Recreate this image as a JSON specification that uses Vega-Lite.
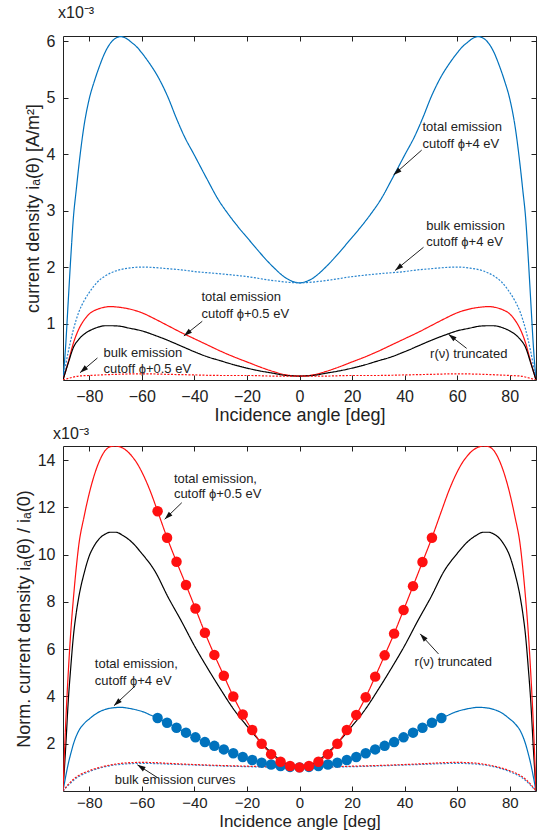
{
  "$schema": "https://vega.github.io/schema/vega-lite/v6.json",
  "background": "white",
  "padding": {"left": 14, "top": 4, "right": 8, "bottom": 0},
  "spacing": 0,
  "config": {
    "font": "Liberation Sans",
    "view": {"stroke": "#222", "strokeWidth": 1},
    "axis": {"domain": false, "grid": false, "tickColor": "#222", "tickSize": -5, "tickWidth": 1,
      "labelFont": "Liberation Sans", "labelFontSize": 16, "labelColor": "#222",
      "titleFont": "Liberation Sans", "titleFontSize": 18, "titleFontWeight": "normal", "titleColor": "#222"},
    "title": {"font": "Liberation Sans", "fontSize": 16, "fontWeight": "normal", "color": "#222", "anchor": "start", "frame": "group"}
  },
  "datasets": {
    "top": [
      {"s":"t4","a":-90,"v":0},{"s":"t4","a":-89,"v":0.6},{"s":"t4","a":-88,"v":1.4},{"s":"t4","a":-87,"v":2.2},{"s":"t4","a":-86,"v":2.9},{"s":"t4","a":-85,"v":3.35},{"s":"t4","a":-84,"v":3.78},{"s":"t4","a":-82,"v":4.5},{"s":"t4","a":-80,"v":4.98},{"s":"t4","a":-78,"v":5.3},{"s":"t4","a":-76,"v":5.57},{"s":"t4","a":-74,"v":5.8},{"s":"t4","a":-72,"v":5.96},{"s":"t4","a":-70,"v":6.05},{"s":"t4","a":-68,"v":6.08},{"s":"t4","a":-66,"v":6.05},{"s":"t4","a":-64,"v":5.98},{"s":"t4","a":-62,"v":5.9},{"s":"t4","a":-60,"v":5.79},{"s":"t4","a":-57,"v":5.6},{"s":"t4","a":-54,"v":5.38},{"s":"t4","a":-50,"v":5.0},{"s":"t4","a":-47,"v":4.65},{"s":"t4","a":-44,"v":4.33},{"s":"t4","a":-40,"v":3.98},{"s":"t4","a":-35,"v":3.54},{"s":"t4","a":-31,"v":3.2},{"s":"t4","a":-27,"v":2.93},{"s":"t4","a":-23,"v":2.69},{"s":"t4","a":-19,"v":2.47},{"s":"t4","a":-15,"v":2.25},{"s":"t4","a":-10,"v":2.0},{"s":"t4","a":-5,"v":1.8},{"s":"t4","a":0,"v":1.72},
      {"s":"t4","a":5,"v":1.8},{"s":"t4","a":10,"v":2.0},{"s":"t4","a":15,"v":2.25},{"s":"t4","a":19,"v":2.47},{"s":"t4","a":23,"v":2.69},{"s":"t4","a":27,"v":2.93},{"s":"t4","a":31,"v":3.2},{"s":"t4","a":35,"v":3.54},{"s":"t4","a":40,"v":3.98},{"s":"t4","a":44,"v":4.33},{"s":"t4","a":47,"v":4.65},{"s":"t4","a":50,"v":5.0},{"s":"t4","a":54,"v":5.38},{"s":"t4","a":57,"v":5.6},{"s":"t4","a":60,"v":5.79},{"s":"t4","a":62,"v":5.9},{"s":"t4","a":64,"v":5.98},{"s":"t4","a":66,"v":6.05},{"s":"t4","a":68,"v":6.08},{"s":"t4","a":70,"v":6.05},{"s":"t4","a":72,"v":5.96},{"s":"t4","a":74,"v":5.8},{"s":"t4","a":76,"v":5.57},{"s":"t4","a":78,"v":5.3},{"s":"t4","a":80,"v":4.98},{"s":"t4","a":82,"v":4.5},{"s":"t4","a":84,"v":3.78},{"s":"t4","a":85,"v":3.35},{"s":"t4","a":86,"v":2.9},{"s":"t4","a":87,"v":2.2},{"s":"t4","a":88,"v":1.4},{"s":"t4","a":89,"v":0.6},{"s":"t4","a":90,"v":0},
      {"s":"b4","a":-90,"v":0},{"s":"b4","a":-88,"v":0.5},{"s":"b4","a":-86,"v":0.9},{"s":"b4","a":-84,"v":1.2},{"s":"b4","a":-82,"v":1.4},{"s":"b4","a":-80,"v":1.55},{"s":"b4","a":-77,"v":1.73},{"s":"b4","a":-74,"v":1.84},{"s":"b4","a":-70,"v":1.93},{"s":"b4","a":-65,"v":1.98},{"s":"b4","a":-60,"v":2.0},{"s":"b4","a":-55,"v":1.99},{"s":"b4","a":-50,"v":1.97},{"s":"b4","a":-45,"v":1.95},{"s":"b4","a":-40,"v":1.92},{"s":"b4","a":-30,"v":1.88},{"s":"b4","a":-20,"v":1.83},{"s":"b4","a":-10,"v":1.76},{"s":"b4","a":0,"v":1.72},{"s":"b4","a":10,"v":1.76},{"s":"b4","a":20,"v":1.83},{"s":"b4","a":30,"v":1.88},{"s":"b4","a":40,"v":1.92},{"s":"b4","a":45,"v":1.95},{"s":"b4","a":50,"v":1.97},{"s":"b4","a":55,"v":1.99},{"s":"b4","a":60,"v":2.0},{"s":"b4","a":65,"v":1.98},{"s":"b4","a":70,"v":1.93},{"s":"b4","a":74,"v":1.84},{"s":"b4","a":77,"v":1.73},{"s":"b4","a":80,"v":1.55},{"s":"b4","a":82,"v":1.4},{"s":"b4","a":84,"v":1.2},{"s":"b4","a":86,"v":0.9},{"s":"b4","a":88,"v":0.5},{"s":"b4","a":90,"v":0},
      {"s":"t05","a":-90,"v":0},{"s":"t05","a":-88,"v":0.32},{"s":"t05","a":-86,"v":0.66},{"s":"t05","a":-84,"v":0.9},{"s":"t05","a":-82,"v":1.06},{"s":"t05","a":-80,"v":1.17},{"s":"t05","a":-77,"v":1.25},{"s":"t05","a":-74,"v":1.29},{"s":"t05","a":-72,"v":1.3},{"s":"t05","a":-69,"v":1.29},{"s":"t05","a":-65,"v":1.26},{"s":"t05","a":-60,"v":1.19},{"s":"t05","a":-55,"v":1.08},{"s":"t05","a":-50,"v":0.96},{"s":"t05","a":-45,"v":0.84},{"s":"t05","a":-40,"v":0.73},{"s":"t05","a":-35,"v":0.62},{"s":"t05","a":-30,"v":0.51},{"s":"t05","a":-25,"v":0.41},{"s":"t05","a":-20,"v":0.32},{"s":"t05","a":-15,"v":0.23},{"s":"t05","a":-10,"v":0.15},{"s":"t05","a":-5,"v":0.09},{"s":"t05","a":0,"v":0.07},{"s":"t05","a":5,"v":0.09},{"s":"t05","a":10,"v":0.15},{"s":"t05","a":15,"v":0.23},{"s":"t05","a":20,"v":0.32},{"s":"t05","a":25,"v":0.41},{"s":"t05","a":30,"v":0.51},{"s":"t05","a":35,"v":0.62},{"s":"t05","a":40,"v":0.73},{"s":"t05","a":45,"v":0.84},{"s":"t05","a":50,"v":0.96},{"s":"t05","a":55,"v":1.08},{"s":"t05","a":60,"v":1.19},{"s":"t05","a":65,"v":1.26},{"s":"t05","a":69,"v":1.29},{"s":"t05","a":72,"v":1.3},{"s":"t05","a":74,"v":1.29},{"s":"t05","a":77,"v":1.25},{"s":"t05","a":80,"v":1.17},{"s":"t05","a":82,"v":1.06},{"s":"t05","a":84,"v":0.9},{"s":"t05","a":86,"v":0.66},{"s":"t05","a":88,"v":0.32},{"s":"t05","a":90,"v":0},
      {"s":"r","a":-90,"v":0},{"s":"r","a":-88,"v":0.3},{"s":"r","a":-86,"v":0.58},{"s":"r","a":-84,"v":0.72},{"s":"r","a":-82,"v":0.81},{"s":"r","a":-80,"v":0.87},{"s":"r","a":-77,"v":0.93},{"s":"r","a":-74,"v":0.96},{"s":"r","a":-71,"v":0.96},{"s":"r","a":-68,"v":0.95},{"s":"r","a":-65,"v":0.92},{"s":"r","a":-60,"v":0.87},{"s":"r","a":-55,"v":0.79},{"s":"r","a":-50,"v":0.7},{"s":"r","a":-45,"v":0.6},{"s":"r","a":-40,"v":0.5},{"s":"r","a":-35,"v":0.41},{"s":"r","a":-30,"v":0.34},{"s":"r","a":-25,"v":0.27},{"s":"r","a":-20,"v":0.21},{"s":"r","a":-15,"v":0.16},{"s":"r","a":-10,"v":0.12},{"s":"r","a":-5,"v":0.08},{"s":"r","a":0,"v":0.07},{"s":"r","a":5,"v":0.08},{"s":"r","a":10,"v":0.12},{"s":"r","a":15,"v":0.16},{"s":"r","a":20,"v":0.21},{"s":"r","a":25,"v":0.27},{"s":"r","a":30,"v":0.34},{"s":"r","a":35,"v":0.41},{"s":"r","a":40,"v":0.5},{"s":"r","a":45,"v":0.6},{"s":"r","a":50,"v":0.7},{"s":"r","a":55,"v":0.79},{"s":"r","a":60,"v":0.87},{"s":"r","a":65,"v":0.92},{"s":"r","a":68,"v":0.95},{"s":"r","a":71,"v":0.96},{"s":"r","a":74,"v":0.96},{"s":"r","a":77,"v":0.93},{"s":"r","a":80,"v":0.87},{"s":"r","a":82,"v":0.81},{"s":"r","a":84,"v":0.72},{"s":"r","a":86,"v":0.58},{"s":"r","a":88,"v":0.3},{"s":"r","a":90,"v":0},
      {"s":"b05","a":-90,"v":0},{"s":"b05","a":-87,"v":0.04},{"s":"b05","a":-84,"v":0.07},{"s":"b05","a":-80,"v":0.08},{"s":"b05","a":-70,"v":0.1},{"s":"b05","a":-60,"v":0.11},{"s":"b05","a":-50,"v":0.1},{"s":"b05","a":-40,"v":0.09},{"s":"b05","a":-30,"v":0.08},{"s":"b05","a":-20,"v":0.08},{"s":"b05","a":-10,"v":0.07},{"s":"b05","a":0,"v":0.07},{"s":"b05","a":10,"v":0.07},{"s":"b05","a":20,"v":0.08},{"s":"b05","a":30,"v":0.08},{"s":"b05","a":40,"v":0.09},{"s":"b05","a":50,"v":0.1},{"s":"b05","a":60,"v":0.11},{"s":"b05","a":70,"v":0.1},{"s":"b05","a":80,"v":0.08},{"s":"b05","a":84,"v":0.07},{"s":"b05","a":87,"v":0.04},{"s":"b05","a":90,"v":0}
    ],
    "bot": [
      {"s":"b4","a":-90,"v":0},{"s":"b4","a":-88,"v":0.24},{"s":"b4","a":-86,"v":0.45},{"s":"b4","a":-84,"v":0.61},{"s":"b4","a":-80,"v":0.82},{"s":"b4","a":-76,"v":0.97},{"s":"b4","a":-72,"v":1.07},{"s":"b4","a":-68,"v":1.13},{"s":"b4","a":-64,"v":1.16},{"s":"b4","a":-60,"v":1.17},{"s":"b4","a":-55,"v":1.16},{"s":"b4","a":-50,"v":1.14},{"s":"b4","a":-40,"v":1.1},{"s":"b4","a":-30,"v":1.06},{"s":"b4","a":-20,"v":1.03},{"s":"b4","a":-10,"v":1.01},{"s":"b4","a":0,"v":1.0},{"s":"b4","a":10,"v":1.01},{"s":"b4","a":20,"v":1.03},{"s":"b4","a":30,"v":1.06},{"s":"b4","a":40,"v":1.1},{"s":"b4","a":50,"v":1.14},{"s":"b4","a":55,"v":1.16},{"s":"b4","a":60,"v":1.17},{"s":"b4","a":64,"v":1.16},{"s":"b4","a":68,"v":1.13},{"s":"b4","a":72,"v":1.07},{"s":"b4","a":76,"v":0.97},{"s":"b4","a":80,"v":0.82},{"s":"b4","a":84,"v":0.61},{"s":"b4","a":86,"v":0.45},{"s":"b4","a":88,"v":0.24},{"s":"b4","a":90,"v":0},
      {"s":"b05","a":-90,"v":0},{"s":"b05","a":-88,"v":0.28},{"s":"b05","a":-86,"v":0.5},{"s":"b05","a":-84,"v":0.66},{"s":"b05","a":-80,"v":0.86},{"s":"b05","a":-76,"v":1.0},{"s":"b05","a":-72,"v":1.1},{"s":"b05","a":-68,"v":1.17},{"s":"b05","a":-64,"v":1.2},{"s":"b05","a":-60,"v":1.21},{"s":"b05","a":-55,"v":1.2},{"s":"b05","a":-50,"v":1.17},{"s":"b05","a":-40,"v":1.12},{"s":"b05","a":-30,"v":1.08},{"s":"b05","a":-20,"v":1.05},{"s":"b05","a":-10,"v":1.02},{"s":"b05","a":0,"v":1.0},{"s":"b05","a":10,"v":1.02},{"s":"b05","a":20,"v":1.05},{"s":"b05","a":30,"v":1.08},{"s":"b05","a":40,"v":1.12},{"s":"b05","a":50,"v":1.17},{"s":"b05","a":55,"v":1.2},{"s":"b05","a":60,"v":1.21},{"s":"b05","a":64,"v":1.2},{"s":"b05","a":68,"v":1.17},{"s":"b05","a":72,"v":1.1},{"s":"b05","a":76,"v":1.0},{"s":"b05","a":80,"v":0.86},{"s":"b05","a":84,"v":0.66},{"s":"b05","a":86,"v":0.5},{"s":"b05","a":88,"v":0.28},{"s":"b05","a":90,"v":0},
      {"s":"r","a":-90,"v":0},{"s":"r","a":-89,"v":1.8},{"s":"r","a":-88,"v":3.8},{"s":"r","a":-87,"v":5.3},{"s":"r","a":-86,"v":6.6},{"s":"r","a":-85,"v":7.5},{"s":"r","a":-84,"v":8.2},{"s":"r","a":-82,"v":9.2},{"s":"r","a":-80,"v":9.95},{"s":"r","a":-78,"v":10.4},{"s":"r","a":-76,"v":10.7},{"s":"r","a":-74,"v":10.87},{"s":"r","a":-72,"v":10.95},{"s":"r","a":-70,"v":10.95},{"s":"r","a":-67,"v":10.8},{"s":"r","a":-64,"v":10.55},{"s":"r","a":-60,"v":10.05},{"s":"r","a":-55,"v":9.3},{"s":"r","a":-50,"v":8.2},{"s":"r","a":-45,"v":7.2},{"s":"r","a":-40,"v":6.15},{"s":"r","a":-35,"v":5.2},{"s":"r","a":-30,"v":4.3},{"s":"r","a":-25,"v":3.45},{"s":"r","a":-20,"v":2.75},{"s":"r","a":-15,"v":2.1},{"s":"r","a":-10,"v":1.55},{"s":"r","a":-5,"v":1.15},{"s":"r","a":0,"v":1.0},{"s":"r","a":5,"v":1.15},{"s":"r","a":10,"v":1.55},{"s":"r","a":15,"v":2.1},{"s":"r","a":20,"v":2.75},{"s":"r","a":25,"v":3.45},{"s":"r","a":30,"v":4.3},{"s":"r","a":35,"v":5.2},{"s":"r","a":40,"v":6.15},{"s":"r","a":45,"v":7.2},{"s":"r","a":50,"v":8.2},{"s":"r","a":55,"v":9.3},{"s":"r","a":60,"v":10.05},{"s":"r","a":64,"v":10.55},{"s":"r","a":67,"v":10.8},{"s":"r","a":70,"v":10.95},{"s":"r","a":72,"v":10.95},{"s":"r","a":74,"v":10.87},{"s":"r","a":76,"v":10.7},{"s":"r","a":78,"v":10.4},{"s":"r","a":80,"v":9.95},{"s":"r","a":82,"v":9.2},{"s":"r","a":84,"v":8.2},{"s":"r","a":85,"v":7.5},{"s":"r","a":86,"v":6.6},{"s":"r","a":87,"v":5.3},{"s":"r","a":88,"v":3.8},{"s":"r","a":89,"v":1.8},{"s":"r","a":90,"v":0},
      {"s":"t4","a":-90,"v":0},{"s":"t4","a":-89,"v":0.6},{"s":"t4","a":-88,"v":1.15},{"s":"t4","a":-87,"v":1.6},{"s":"t4","a":-86,"v":2.0},{"s":"t4","a":-84,"v":2.55},{"s":"t4","a":-82,"v":2.85},{"s":"t4","a":-80,"v":3.05},{"s":"t4","a":-77,"v":3.3},{"s":"t4","a":-74,"v":3.45},{"s":"t4","a":-71,"v":3.52},{"s":"t4","a":-68,"v":3.54},{"s":"t4","a":-65,"v":3.5},{"s":"t4","a":-62,"v":3.43},{"s":"t4","a":-59,"v":3.33},{"s":"t4","a":-57,"v":3.23},{"s":"t4","a":-54,"v":3.09},{"s":"t4","a":-50.4,"v":2.89},{"s":"t4","a":-46.8,"v":2.68},{"s":"t4","a":-43.2,"v":2.47},{"s":"t4","a":-39.6,"v":2.27},{"s":"t4","a":-36,"v":2.07},{"s":"t4","a":-32.4,"v":1.91},{"s":"t4","a":-28.8,"v":1.76},{"s":"t4","a":-25.2,"v":1.6},{"s":"t4","a":-21.6,"v":1.44},{"s":"t4","a":-18,"v":1.31},{"s":"t4","a":-14.4,"v":1.2},{"s":"t4","a":-10.8,"v":1.12},{"s":"t4","a":-7.2,"v":1.06},{"s":"t4","a":-3.6,"v":1.02},{"s":"t4","a":0,"v":1.0},{"s":"t4","a":3.6,"v":1.02},{"s":"t4","a":7.2,"v":1.06},{"s":"t4","a":10.8,"v":1.12},{"s":"t4","a":14.4,"v":1.2},{"s":"t4","a":18,"v":1.31},{"s":"t4","a":21.6,"v":1.44},{"s":"t4","a":25.2,"v":1.6},{"s":"t4","a":28.8,"v":1.76},{"s":"t4","a":32.4,"v":1.91},{"s":"t4","a":36,"v":2.07},{"s":"t4","a":39.6,"v":2.27},{"s":"t4","a":43.2,"v":2.47},{"s":"t4","a":46.8,"v":2.68},{"s":"t4","a":50.4,"v":2.89},{"s":"t4","a":54,"v":3.09},{"s":"t4","a":57,"v":3.23},{"s":"t4","a":59,"v":3.33},{"s":"t4","a":62,"v":3.43},{"s":"t4","a":65,"v":3.5},{"s":"t4","a":68,"v":3.54},{"s":"t4","a":71,"v":3.52},{"s":"t4","a":74,"v":3.45},{"s":"t4","a":77,"v":3.3},{"s":"t4","a":80,"v":3.05},{"s":"t4","a":82,"v":2.85},{"s":"t4","a":84,"v":2.55},{"s":"t4","a":86,"v":2.0},{"s":"t4","a":87,"v":1.6},{"s":"t4","a":88,"v":1.15},{"s":"t4","a":89,"v":0.6},{"s":"t4","a":90,"v":0},
      {"s":"t05","a":-90,"v":0},{"s":"t05","a":-89,"v":2.8},{"s":"t05","a":-88,"v":5.0},{"s":"t05","a":-87,"v":6.8},{"s":"t05","a":-86,"v":8.2},{"s":"t05","a":-85,"v":9.4},{"s":"t05","a":-84,"v":10.4},{"s":"t05","a":-82,"v":11.6},{"s":"t05","a":-80,"v":12.6},{"s":"t05","a":-78,"v":13.4},{"s":"t05","a":-76,"v":14.0},{"s":"t05","a":-74,"v":14.4},{"s":"t05","a":-72,"v":14.57},{"s":"t05","a":-70,"v":14.6},{"s":"t05","a":-68,"v":14.55},{"s":"t05","a":-66,"v":14.42},{"s":"t05","a":-64,"v":14.2},{"s":"t05","a":-62,"v":13.9},{"s":"t05","a":-60,"v":13.5},{"s":"t05","a":-57,"v":12.75},{"s":"t05","a":-54,"v":11.84},{"s":"t05","a":-50.4,"v":10.72},{"s":"t05","a":-46.8,"v":9.7},{"s":"t05","a":-43.2,"v":8.72},{"s":"t05","a":-39.6,"v":7.72},{"s":"t05","a":-36,"v":6.7},{"s":"t05","a":-32.4,"v":5.76},{"s":"t05","a":-28.8,"v":4.88},{"s":"t05","a":-25.2,"v":4.0},{"s":"t05","a":-21.6,"v":3.24},{"s":"t05","a":-18,"v":2.58},{"s":"t05","a":-14.4,"v":2.0},{"s":"t05","a":-10.8,"v":1.56},{"s":"t05","a":-7.2,"v":1.24},{"s":"t05","a":-3.6,"v":1.06},{"s":"t05","a":0,"v":1.0},{"s":"t05","a":3.6,"v":1.06},{"s":"t05","a":7.2,"v":1.24},{"s":"t05","a":10.8,"v":1.56},{"s":"t05","a":14.4,"v":2.0},{"s":"t05","a":18,"v":2.58},{"s":"t05","a":21.6,"v":3.22},{"s":"t05","a":25.2,"v":3.97},{"s":"t05","a":28.8,"v":4.84},{"s":"t05","a":32.4,"v":5.74},{"s":"t05","a":36,"v":6.66},{"s":"t05","a":39.6,"v":7.66},{"s":"t05","a":43.2,"v":8.67},{"s":"t05","a":46.8,"v":9.69},{"s":"t05","a":50.4,"v":10.72},{"s":"t05","a":54,"v":11.84},{"s":"t05","a":57,"v":12.75},{"s":"t05","a":60,"v":13.5},{"s":"t05","a":62,"v":13.9},{"s":"t05","a":64,"v":14.2},{"s":"t05","a":66,"v":14.42},{"s":"t05","a":68,"v":14.55},{"s":"t05","a":70,"v":14.6},{"s":"t05","a":72,"v":14.57},{"s":"t05","a":74,"v":14.4},{"s":"t05","a":76,"v":14.0},{"s":"t05","a":78,"v":13.4},{"s":"t05","a":80,"v":12.6},{"s":"t05","a":82,"v":11.6},{"s":"t05","a":84,"v":10.4},{"s":"t05","a":85,"v":9.4},{"s":"t05","a":86,"v":8.2},{"s":"t05","a":87,"v":6.8},{"s":"t05","a":88,"v":5.0},{"s":"t05","a":89,"v":2.8},{"s":"t05","a":90,"v":0}
    ],
    "botm": [
      {"s":"t4","a":-54,"v":3.09},{"s":"t4","a":-50.4,"v":2.89},{"s":"t4","a":-46.8,"v":2.68},{"s":"t4","a":-43.2,"v":2.47},{"s":"t4","a":-39.6,"v":2.27},{"s":"t4","a":-36,"v":2.07},{"s":"t4","a":-32.4,"v":1.91},{"s":"t4","a":-28.8,"v":1.76},{"s":"t4","a":-25.2,"v":1.6},{"s":"t4","a":-21.6,"v":1.44},{"s":"t4","a":-18,"v":1.31},{"s":"t4","a":-14.4,"v":1.2},{"s":"t4","a":-10.8,"v":1.12},{"s":"t4","a":-7.2,"v":1.06},{"s":"t4","a":-3.6,"v":1.02},{"s":"t4","a":0,"v":1.0},{"s":"t4","a":3.6,"v":1.02},{"s":"t4","a":7.2,"v":1.06},{"s":"t4","a":10.8,"v":1.12},{"s":"t4","a":14.4,"v":1.2},{"s":"t4","a":18,"v":1.31},{"s":"t4","a":21.6,"v":1.44},{"s":"t4","a":25.2,"v":1.6},{"s":"t4","a":28.8,"v":1.76},{"s":"t4","a":32.4,"v":1.91},{"s":"t4","a":36,"v":2.07},{"s":"t4","a":39.6,"v":2.27},{"s":"t4","a":43.2,"v":2.47},{"s":"t4","a":46.8,"v":2.68},{"s":"t4","a":50.4,"v":2.89},{"s":"t4","a":54,"v":3.09},
      {"s":"t05","a":-54,"v":11.84},{"s":"t05","a":-50.4,"v":10.72},{"s":"t05","a":-46.8,"v":9.7},{"s":"t05","a":-43.2,"v":8.72},{"s":"t05","a":-39.6,"v":7.72},{"s":"t05","a":-36,"v":6.7},{"s":"t05","a":-32.4,"v":5.76},{"s":"t05","a":-28.8,"v":4.88},{"s":"t05","a":-25.2,"v":4.0},{"s":"t05","a":-21.6,"v":3.24},{"s":"t05","a":-18,"v":2.58},{"s":"t05","a":-14.4,"v":2.0},{"s":"t05","a":-10.8,"v":1.56},{"s":"t05","a":-7.2,"v":1.24},{"s":"t05","a":-3.6,"v":1.06},{"s":"t05","a":0,"v":1.0},{"s":"t05","a":3.6,"v":1.06},{"s":"t05","a":7.2,"v":1.24},{"s":"t05","a":10.8,"v":1.56},{"s":"t05","a":14.4,"v":2.0},{"s":"t05","a":18,"v":2.58},{"s":"t05","a":21.6,"v":3.22},{"s":"t05","a":25.2,"v":3.97},{"s":"t05","a":28.8,"v":4.84},{"s":"t05","a":32.4,"v":5.74},{"s":"t05","a":36,"v":6.66},{"s":"t05","a":39.6,"v":7.66},{"s":"t05","a":43.2,"v":8.67},{"s":"t05","a":46.8,"v":9.69},{"s":"t05","a":50.4,"v":10.72}
    ],
    "toptext": [
      {"t":"total emission","a":46.8,"v":4.48},{"t":"cutoff ϕ+4 eV","a":46.8,"v":4.17},
      {"t":"bulk emission","a":48.2,"v":2.73},{"t":"cutoff ϕ+4 eV","a":48.2,"v":2.44},
      {"t":"total emission","a":-37.3,"v":1.47},{"t":"cutoff ϕ+0.5 eV","a":-37.3,"v":1.17},
      {"t":"bulk emission","a":-74.6,"v":0.48},{"t":"cutoff ϕ+0.5 eV","a":-74.6,"v":0.2},
      {"t":"r(ν) truncated","a":49.7,"v":0.46}
    ],
    "toparrow": [
      {"a":46.5,"v":4.07,"a2":35.8,"v2":3.63},
      {"a":47.2,"v":2.35,"a2":36.4,"v2":1.94},
      {"a":-37.0,"v":1.04,"a2":-44.0,"v2":0.78},
      {"a":-76.9,"v":0.39,"a2":-83.5,"v2":0.13},
      {"a":63.6,"v":0.56,"a2":56.7,"v2":0.81}
    ],
    "bottext": [
      {"t":"total emission,","a":-47.8,"v":13.22},{"t":"cutoff ϕ+0.5 eV","a":-47.8,"v":12.55},
      {"t":"r(ν) truncated","a":43.8,"v":5.45},
      {"t":"total emission,","a":-77.9,"v":5.38},{"t":"cutoff ϕ+4 eV","a":-77.9,"v":4.67},
      {"t":"bulk emission curves","a":-70.3,"v":0.46}
    ],
    "botarrow": [
      {"a":-44.8,"v":12.2,"a2":-51.3,"v2":11.5},
      {"a":52.9,"v":5.8,"a2":45.9,"v2":6.65},
      {"a":-62.4,"v":4.46,"a2":-70.6,"v2":3.61},
      {"a":-54.1,"v":0.57,"a2":-61.7,"v2":1.11}
    ]
  },
  "vconcat": [
    {
      "width": 473, "height": 344,
      "title": {"text": "x10⁻³", "dx": -5, "offset": 12},
      "resolve": {"axis": {"x": "independent", "y": "independent"}},
      "layer": [
        {
          "data": {"name": "top"},
          "mark": {"type": "line", "strokeWidth": 1.2, "interpolate": "monotone", "clip": true},
          "encoding": {
            "x": {"field": "a", "type": "quantitative", "scale": {"domain": [-90, 90], "nice": false},
              "axis": {"values": [-80, -60, -40, -20, 0, 20, 40, 60, 80], "title": "Incidence angle [deg]", "labelPadding": 13, "titleY": 40, "titleBaseline": "alphabetic"}},
            "y": {"field": "v", "type": "quantitative", "scale": {"domain": [0, 6.09], "nice": false, "zero": true},
              "axis": {"values": [1, 2, 3, 4, 5, 6], "title": "current density iₐ(θ)  [A/m²]", "labelPadding": 13, "titlePadding": 4}},
            "color": {"field": "s", "type": "nominal", "legend": null,
              "scale": {"domain": ["t4", "b4", "t05", "b05", "r"], "range": ["#0072BD", "#2a86cf", "#FF1010", "#FF1010", "#000000"]}},
            "strokeDash": {"field": "s", "type": "nominal", "legend": null,
              "scale": {"domain": ["t4", "b4", "t05", "b05", "r"], "range": [[1, 0], [2, 1.5], [1, 0], [2, 1.5], [1, 0]]}}
          }
        },
        {
          "data": {"name": "toparrow"},
          "mark": {"type": "point", "opacity": 0},
          "encoding": {
            "x": {"field": "a", "type": "quantitative", "scale": {"domain": [-90, 90], "nice": false},
              "axis": {"orient": "top", "values": [-80, -60, -40, -20, 0, 20, 40, 60, 80], "labels": false, "title": null}},
            "y": {"field": "v", "type": "quantitative", "scale": {"domain": [0, 6.09], "nice": false},
              "axis": {"orient": "right", "values": [1, 2, 3, 4, 5, 6], "labels": false, "title": null}}
          }
        },
        {
          "data": {"name": "toparrow"},
          "mark": {"type": "rule", "color": "#222", "strokeWidth": 1},
          "encoding": {
            "x": {"field": "a", "type": "quantitative", "scale": {"domain": [-90, 90], "nice": false}, "axis": null},
            "y": {"field": "v", "type": "quantitative", "scale": {"domain": [0, 6.09], "nice": false}, "axis": null},
            "x2": {"field": "a2"},
            "y2": {"field": "v2"}
          }
        },
        {
          "data": {"name": "toparrow"},
          "transform": [{"calculate": "atan2((datum.a2-datum.a)*2.628,(datum.v2-datum.v)*56.5)*180/PI", "as": "ang"}],
          "mark": {"type": "point", "shape": "M0,0L0.6,1.9L-0.6,1.9Z", "filled": true, "color": "#111", "opacity": 1, "size": 75},
          "encoding": {
            "x": {"field": "a2", "type": "quantitative", "scale": {"domain": [-90, 90], "nice": false}, "axis": null},
            "y": {"field": "v2", "type": "quantitative", "scale": {"domain": [0, 6.09], "nice": false}, "axis": null},
            "angle": {"field": "ang", "type": "quantitative", "scale": null}
          }
        },
        {
          "data": {"name": "toptext"},
          "mark": {"type": "text", "align": "left", "baseline": "middle", "fontSize": 13, "color": "#222", "font": "Liberation Sans"},
          "encoding": {
            "x": {"field": "a", "type": "quantitative", "scale": {"domain": [-90, 90], "nice": false}, "axis": null},
            "y": {"field": "v", "type": "quantitative", "scale": {"domain": [0, 6.09], "nice": false}, "axis": null},
            "text": {"field": "t"}
          }
        }
      ]
    },
    {
      "width": 473, "height": 345,
      "title": {"text": "x10⁻³", "dx": -10, "offset": 4},
      "resolve": {"axis": {"x": "independent", "y": "independent"}},
      "layer": [
        {
          "data": {"name": "bot"},
          "mark": {"type": "line", "strokeWidth": 1.2, "interpolate": "monotone", "clip": true},
          "encoding": {
            "x": {"field": "a", "type": "quantitative", "scale": {"domain": [-90, 90], "nice": false},
              "axis": {"values": [-80, -60, -40, -20, 0, 20, 40, 60, 80], "title": "Incidence angle [deg]", "labelFontSize": 15, "labelPadding": 9, "titleFontSize": 17, "titleY": 35, "titleBaseline": "alphabetic"}},
            "y": {"field": "v", "type": "quantitative", "scale": {"domain": [0, 14.6], "nice": false, "zero": true},
              "axis": {"values": [2, 4, 6, 8, 10, 12, 14], "title": "Norm. current density iₐ(θ) / iₐ(0)", "labelPadding": 13, "titlePadding": 4}},
            "color": {"field": "s", "type": "nominal", "legend": null,
              "scale": {"domain": ["t4", "b4", "t05", "b05", "r"], "range": ["#0072BD", "#2a86cf", "#FF1010", "#FF1010", "#000000"]}},
            "strokeDash": {"field": "s", "type": "nominal", "legend": null,
              "scale": {"domain": ["t4", "b4", "t05", "b05", "r"], "range": [[1, 0], [2, 1.5], [1, 0], [2, 1.5], [1, 0]]}}
          }
        },
        {
          "data": {"name": "botm"},
          "mark": {"type": "circle", "size": 110, "opacity": 1},
          "encoding": {
            "x": {"field": "a", "type": "quantitative", "scale": {"domain": [-90, 90], "nice": false},
              "axis": {"orient": "top", "values": [-80, -60, -40, -20, 0, 20, 40, 60, 80], "labels": false, "title": null}},
            "y": {"field": "v", "type": "quantitative", "scale": {"domain": [0, 14.6], "nice": false},
              "axis": {"orient": "right", "values": [2, 4, 6, 8, 10, 12, 14], "labels": false, "title": null}},
            "color": {"field": "s", "type": "nominal", "legend": null,
              "scale": {"domain": ["t4", "b4", "t05", "b05", "r"], "range": ["#0072BD", "#2a86cf", "#EE1C25", "#FF1010", "#000000"]}},
            "order": {"field": "s", "sort": "descending"}
          }
        },
        {
          "data": {"name": "botarrow"},
          "mark": {"type": "rule", "color": "#222", "strokeWidth": 1},
          "encoding": {
            "x": {"field": "a", "type": "quantitative", "scale": {"domain": [-90, 90], "nice": false}, "axis": null},
            "y": {"field": "v", "type": "quantitative", "scale": {"domain": [0, 14.6], "nice": false}, "axis": null},
            "x2": {"field": "a2"},
            "y2": {"field": "v2"}
          }
        },
        {
          "data": {"name": "botarrow"},
          "transform": [{"calculate": "atan2((datum.a2-datum.a)*2.628,(datum.v2-datum.v)*23.63)*180/PI", "as": "ang"}],
          "mark": {"type": "point", "shape": "M0,0L0.6,1.9L-0.6,1.9Z", "filled": true, "color": "#111", "opacity": 1, "size": 75},
          "encoding": {
            "x": {"field": "a2", "type": "quantitative", "scale": {"domain": [-90, 90], "nice": false}, "axis": null},
            "y": {"field": "v2", "type": "quantitative", "scale": {"domain": [0, 14.6], "nice": false}, "axis": null},
            "angle": {"field": "ang", "type": "quantitative", "scale": null}
          }
        },
        {
          "data": {"name": "bottext"},
          "mark": {"type": "text", "align": "left", "baseline": "middle", "fontSize": 13, "color": "#222", "font": "Liberation Sans"},
          "encoding": {
            "x": {"field": "a", "type": "quantitative", "scale": {"domain": [-90, 90], "nice": false}, "axis": null},
            "y": {"field": "v", "type": "quantitative", "scale": {"domain": [0, 14.6], "nice": false}, "axis": null},
            "text": {"field": "t"}
          }
        }
      ]
    }
  ]
}
